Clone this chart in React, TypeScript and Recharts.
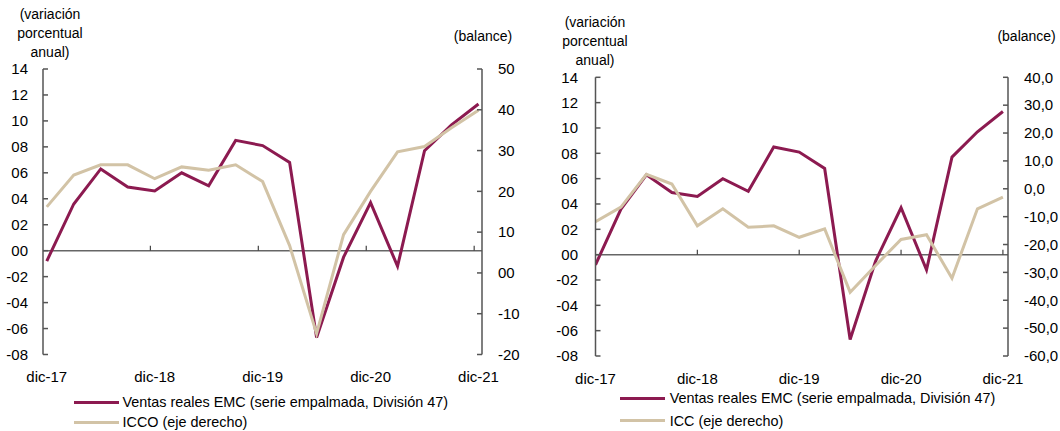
import React from 'react';
import { LineChart, Line, XAxis, YAxis, ReferenceLine } from 'recharts';

const quarters = [
  'dic-17', 'mar-18', 'jun-18', 'sep-18', 'dic-18', 'mar-19', 'jun-19', 'sep-19', 'dic-19',
  'mar-20', 'jun-20', 'sep-20', 'dic-20', 'mar-21', 'jun-21', 'sep-21', 'dic-21',
];
const ventas = [-0.8, 3.6, 6.3, 4.9, 4.6, 6.0, 5.0, 8.5, 8.1, 6.8, -6.7, -0.5, 3.7, -1.2, 7.7, 9.7, 11.3];
const icco = [16.2, 24.0, 26.5, 26.5, 23.1, 26.0, 25.2, 26.5, 22.4, 6.7, -14.9, 9.4, 20.0, 29.7, 31.0, 35.6, 39.9];
const icc = [-11.8, -6.6, 5.2, 1.7, -13.3, -7.2, -13.8, -13.3, -17.4, -14.4, -37.1, -27.5, -18.2, -16.5, -32.1, -7.2, -3.0];

const xTickIdx = [0, 4, 8, 12, 16];
const leftTicks = [-8, -6, -4, -2, 0, 2, 4, 6, 8, 10, 12, 14];
const iccoTicks = [-20, -10, 0, 10, 20, 30, 40, 50];
const iccTicks = [-60, -50, -40, -30, -20, -10, 0, 10, 20, 30, 40];

const legendVentas = 'Ventas reales EMC (serie empalmada, División 47)';
const legendIcco = 'ICCO (eje derecho)';
const legendIcc = 'ICC (eje derecho)';
const titleLeft = ['(variación', 'porcentual', 'anual)'];
const titleRight = '(balance)';

const data = quarters.map((q, i) => ({ i, q, ventas: ventas[i], icco: icco[i], icc: icc[i] }));

const MAROON = '#8C1A50';
const BEIGE = '#D2C3A6';
const AXIS = '#555555';
const FONT = '"Liberation Sans", Arial, sans-serif';

const pad2 = (v: number) => (v < 0 ? '-' : '') + String(Math.abs(v)).padStart(2, '0');
const comma1 = (v: number) => v.toFixed(1).replace('.', ',');

const tickStyle = { fill: '#000', fontSize: 15, fontFamily: FONT };

type PanelProps = {
  rightKey: 'icco' | 'icc';
  rightDomain: [number, number];
  rightTicks: number[];
  rightFmt: (v: number) => string;
  xDomain: [number, number];
  tickShift: number;
  margin: { top: number; right: number; bottom: number; left: number };
  leftWidth: number;
  rightWidth: number;
  leftMargin: number;
  rightMargin: number;
};

function Panel(p: PanelProps) {
  return (
    <LineChart width={530} height={431} data={data} margin={p.margin}>
      <XAxis
        dataKey="i"
        type="number"
        domain={p.xDomain}
        allowDataOverflow
        ticks={xTickIdx}
        interval={0}
        tickFormatter={(v: number) => quarters[v]}
        axisLine={false}
        tickLine={false}
        tickMargin={11}
        height={30}
        tick={tickStyle}
      />
      <YAxis
        yAxisId="left"
        orientation="left"
        type="number"
        domain={[-8, 14]}
        ticks={leftTicks}
        interval={0}
        tickFormatter={pad2}
        width={p.leftWidth}
        tickSize={-5}
        tickMargin={p.leftMargin}
        axisLine={{ stroke: AXIS, strokeWidth: 1.5 }}
        tickLine={{ stroke: AXIS, strokeWidth: 1.5 }}
        tick={tickStyle}
      />
      <YAxis
        yAxisId="right"
        orientation="right"
        type="number"
        domain={p.rightDomain}
        ticks={p.rightTicks}
        interval={0}
        tickFormatter={p.rightFmt}
        width={p.rightWidth}
        tickSize={-5}
        tickMargin={p.rightMargin}
        axisLine={{ stroke: AXIS, strokeWidth: 1.5 }}
        tickLine={{ stroke: AXIS, strokeWidth: 1.5 }}
        tick={tickStyle}
      />
      <ReferenceLine yAxisId="left" y={0} stroke="#666" strokeWidth={1.5} />
      {xTickIdx.slice(1).map((t) => (
        <ReferenceLine
          key={t}
          yAxisId="left"
          segment={[
            { x: t + p.tickShift, y: 0 },
            { x: t + p.tickShift, y: 0.38 },
          ]}
          stroke="#444"
          strokeWidth={1.2}
        />
      ))}
      <Line
        yAxisId="left"
        type="linear"
        dataKey="ventas"
        stroke={MAROON}
        strokeWidth={3}
        dot={false}
        isAnimationActive={false}
      />
      <Line
        yAxisId="right"
        type="linear"
        dataKey={p.rightKey}
        stroke={BEIGE}
        strokeWidth={3}
        dot={false}
        isAnimationActive={false}
      />
    </LineChart>
  );
}

function Title({ cx, top, lines }: { cx: number; top: number; lines: string[] }) {
  return (
    <div
      style={{
        position: 'absolute',
        left: cx - 70,
        top,
        width: 140,
        textAlign: 'center',
        fontFamily: FONT,
        fontSize: 14,
        lineHeight: '19px',
        color: '#000',
      }}
    >
      {lines.map((l) => (
        <div key={l}>{l}</div>
      ))}
    </div>
  );
}

function LegendRow({ x, cy, color, text, gap }: { x: number; cy: number; color: string; text: string; gap: number }) {
  return (
    <div
      style={{
        position: 'absolute',
        left: x,
        top: cy - 10,
        height: 20,
        display: 'flex',
        alignItems: 'center',
        fontFamily: FONT,
        fontSize: 14.4,
        color: '#000',
        whiteSpace: 'nowrap',
      }}
    >
      <div style={{ width: 45, height: 3, background: color, marginRight: gap }} />
      <span>{text}</span>
    </div>
  );
}

export default function App() {
  return (
    <div style={{ position: 'absolute', left: 0, top: 0, width: 1060, height: 431, background: '#fff', overflow: 'hidden' }}>
      <div style={{ position: 'absolute', left: 0, top: 0 }}>
        <Panel
          rightKey="icco"
          rightDomain={[-20, 50]}
          rightTicks={iccoTicks}
          rightFmt={pad2}
          xDomain={[-0.14, 16.13]}
          tickShift={-0.16}
          margin={{ top: 69, right: 0, bottom: 46.5, left: 0 }}
          leftWidth={43}
          rightWidth={48}
          leftMargin={20}
          rightMargin={21}
        />
      </div>
      <div style={{ position: 'absolute', left: 530, top: 0 }}>
        <Panel
          rightKey="icc"
          rightDomain={[-60, 40]}
          rightTicks={iccTicks}
          rightFmt={comma1}
          xDomain={[0, 16.2]}
          tickShift={0}
          margin={{ top: 77.3, right: 0, bottom: 45, left: 0 }}
          leftWidth={65.5}
          rightWidth={52}
          leftMargin={22.5}
          rightMargin={21}
        />
      </div>
      <Title cx={50} top={4.5} lines={titleLeft} />
      <Title cx={483} top={27} lines={[titleRight]} />
      <Title cx={595} top={12.8} lines={titleLeft} />
      <Title cx={1026.6} top={27} lines={[titleRight]} />
      <LegendRow x={73.5} cy={402} color={MAROON} text={legendVentas} gap={4} />
      <LegendRow x={73.5} cy={422} color={BEIGE} text={legendIcco} gap={4} />
      <LegendRow x={619.7} cy={398.3} color={MAROON} text={legendVentas} gap={5} />
      <LegendRow x={619.7} cy={420.7} color={BEIGE} text={legendIcc} gap={5} />
    </div>
  );
}
